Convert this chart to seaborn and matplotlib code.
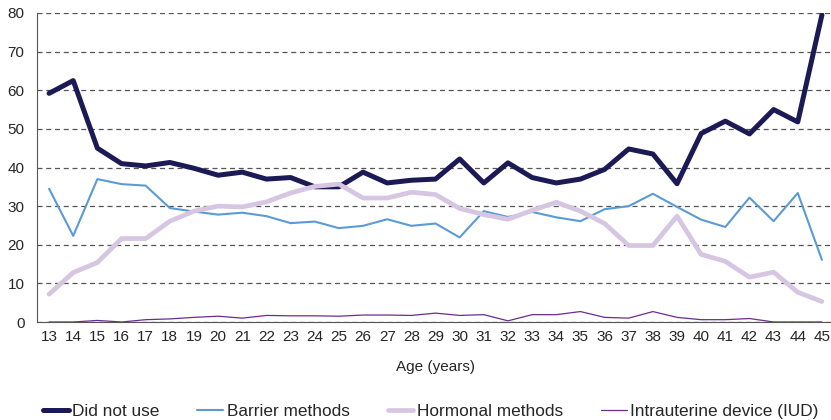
import numpy as np
import pandas as pd
import matplotlib
matplotlib.use("Agg")
import matplotlib.pyplot as plt
import seaborn as sns

ages = list(range(13, 46))

did_not_use = [59.2, 62.5, 45.0, 41.0, 40.4, 41.3, 39.8, 38.0, 38.8, 37.0,
               37.4, 35.0, 35.0, 38.8, 36.0, 36.7, 37.0, 42.2, 36.0, 41.2,
               37.4, 36.0, 37.0, 39.5, 44.8, 43.5, 35.8, 48.8, 52.0, 48.7,
               55.0, 51.8, 79.5]
barrier = [34.5, 22.3, 37.0, 35.7, 35.3, 29.5, 28.6, 27.8, 28.3, 27.4,
           25.6, 26.0, 24.3, 24.9, 26.6, 24.9, 25.5, 21.9, 28.7, 27.2,
           28.5, 27.1, 26.1, 29.2, 30.0, 33.2, 29.8, 26.5, 24.6, 32.2,
           26.1, 33.4, 16.1]
hormonal = [7.2, 12.8, 15.4, 21.6, 21.6, 26.1, 28.7, 30.0, 29.8, 31.1,
            33.4, 35.1, 35.7, 32.1, 32.1, 33.6, 33.0, 29.4, 27.8, 26.6,
            28.9, 31.0, 28.7, 25.5, 19.8, 19.8, 27.4, 17.5, 15.7, 11.6,
            12.9, 7.7, 5.3]
iud = [0.0, 0.0, 0.4, 0.0, 0.6, 0.8, 1.2, 1.5, 1.0, 1.7,
       1.6, 1.6, 1.5, 1.8, 1.8, 1.7, 2.3, 1.7, 1.9, 0.3,
       1.9, 1.9, 2.7, 1.2, 1.0, 2.7, 1.2, 0.6, 0.6, 0.9,
       0.0, 0.0, 0.0]

series = [
    ("Did not use", did_not_use, "#1c1a55", 3.6),
    ("Barrier methods", barrier, "#5b9bd5", 1.5),
    ("Hormonal methods", hormonal, "#d6c6e1", 3.4),
    ("Intrauterine device (IUD)", iud, "#6b2d8c", 0.9),
]

sns.set_style("white")
plt.rcParams["font.family"] = ["Liberation Sans", "DejaVu Sans"]

fig = plt.figure(figsize=(8.31, 4.20), dpi=100)
ax = fig.add_axes([37 / 831, 1 - 322 / 420, 797 / 831, 309 / 420])

pos = np.arange(len(ages))
for name, vals, color, lw in series:
    sns.lineplot(x=pos, y=vals, ax=ax, color=color, linewidth=lw,
                 label=name, legend=False)

ax.set_xlim(-0.5, len(ages) - 0.5)
ax.set_ylim(0, 80)
ax.set_yticks(range(0, 81, 10))
ax.set_xticks(pos)
ax.set_xticklabels([str(a) for a in ages], fontsize=11)
ax.set_xticks(np.arange(-0.5, len(ages), 1), minor=True)
ax.tick_params(axis="x", which="major", length=0, pad=6)
ax.tick_params(axis="x", which="minor", length=5, width=0.8, color="#555555",
               direction="out")
ax.tick_params(axis="y", length=5, width=0.8, color="#555555",
               direction="out", labelsize=11, pad=4)

ax.yaxis.grid(True, linestyle=(0, (4, 3)), color="#555555", linewidth=0.9)
ax.xaxis.grid(False)
ax.set_axisbelow(True)

for side in ["top", "right"]:
    ax.spines[side].set_visible(False)
for side in ["left", "bottom"]:
    ax.spines[side].set_color("#555555")
    ax.spines[side].set_linewidth(0.8)

ax.set_xlabel("Age (years)", fontsize=11, labelpad=11)

handles, labels = ax.get_legend_handles_labels()
fig.legend(handles, labels, loc="lower left", bbox_to_anchor=(0.033, -0.035),
           ncol=4, frameon=False, fontsize=12.4, handlelength=1.5,
           handletextpad=0.2, columnspacing=2.2)

fig.savefig("out.png", dpi=100)
